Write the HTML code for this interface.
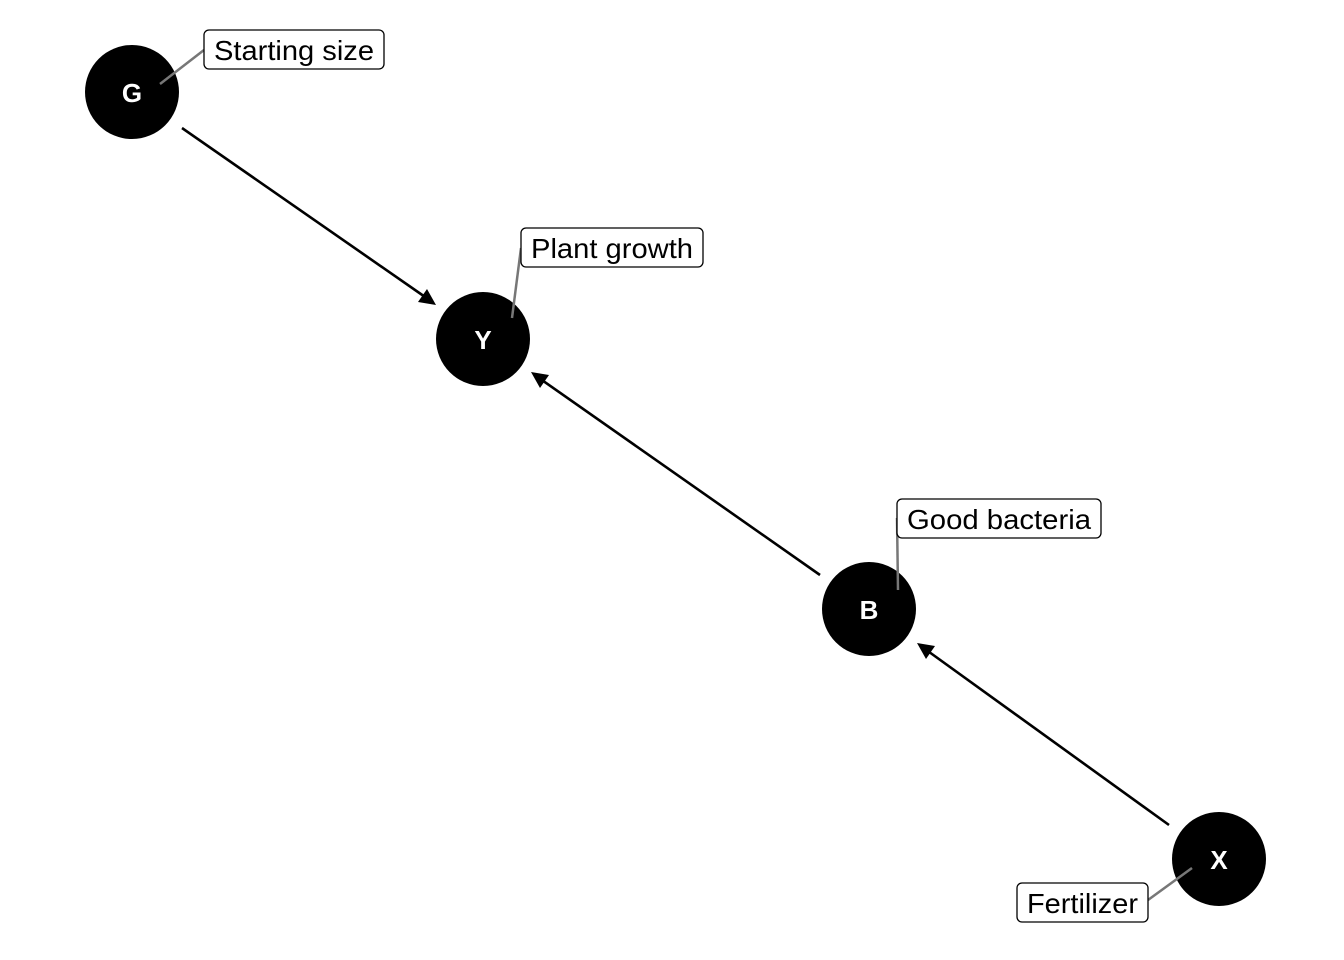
<!DOCTYPE html>
<html><head><meta charset="utf-8"><style>
html,body{margin:0;padding:0;background:#fff;}
svg{display:block;}
</style></head><body>
<svg width="1344" height="960" viewBox="0 0 1344 960" xmlns="http://www.w3.org/2000/svg">
<g stroke="#000" stroke-width="2.6" fill="none">
<line x1="182" y1="128" x2="428" y2="299"/>
<line x1="820" y1="575" x2="539" y2="378"/>
<line x1="1169" y1="825" x2="925" y2="649"/>
</g>
<g fill="#000">
<polygon points="436,305 418,302 427,289"/>
<polygon points="531,372 549,375 540,388"/>
<polygon points="917,643 935,646 926,659"/>
</g>
<g fill="#000">
<circle cx="132" cy="92" r="47"/>
<circle cx="483" cy="339" r="47"/>
<circle cx="869" cy="609" r="47"/>
<circle cx="1219" cy="859" r="47"/>
</g>
<g stroke="#777" stroke-width="2.5">
<line x1="160" y1="84" x2="204" y2="50"/>
<line x1="512" y1="318" x2="521" y2="248"/>
<line x1="898" y1="590" x2="897" y2="518"/>
<line x1="1192" y1="868" x2="1148" y2="900"/>
</g>
<g fill="#fff" font-family="Liberation Sans, sans-serif" font-weight="bold" font-size="26" text-anchor="middle">
<text x="132" y="102">G</text>
<text x="483" y="349">Y</text>
<text x="869" y="619">B</text>
<text x="1219" y="869">X</text>
</g>
<g fill="#fff" stroke="#000" stroke-width="1.3">
<rect x="204" y="30" width="180" height="39" rx="5"/>
<rect x="521" y="228" width="182" height="39" rx="5"/>
<rect x="897" y="499" width="204" height="39" rx="5"/>
<rect x="1017" y="883" width="131" height="39" rx="5"/>
</g>
<g fill="#000" font-family="Liberation Sans, sans-serif" font-size="28">
<text x="214" y="60" textLength="160" lengthAdjust="spacingAndGlyphs">Starting size</text>
<text x="531" y="258" textLength="162" lengthAdjust="spacingAndGlyphs">Plant growth</text>
<text x="907" y="529" textLength="184" lengthAdjust="spacingAndGlyphs">Good bacteria</text>
<text x="1027" y="913" textLength="111" lengthAdjust="spacingAndGlyphs">Fertilizer</text>
</g>
</svg>
</body></html>
